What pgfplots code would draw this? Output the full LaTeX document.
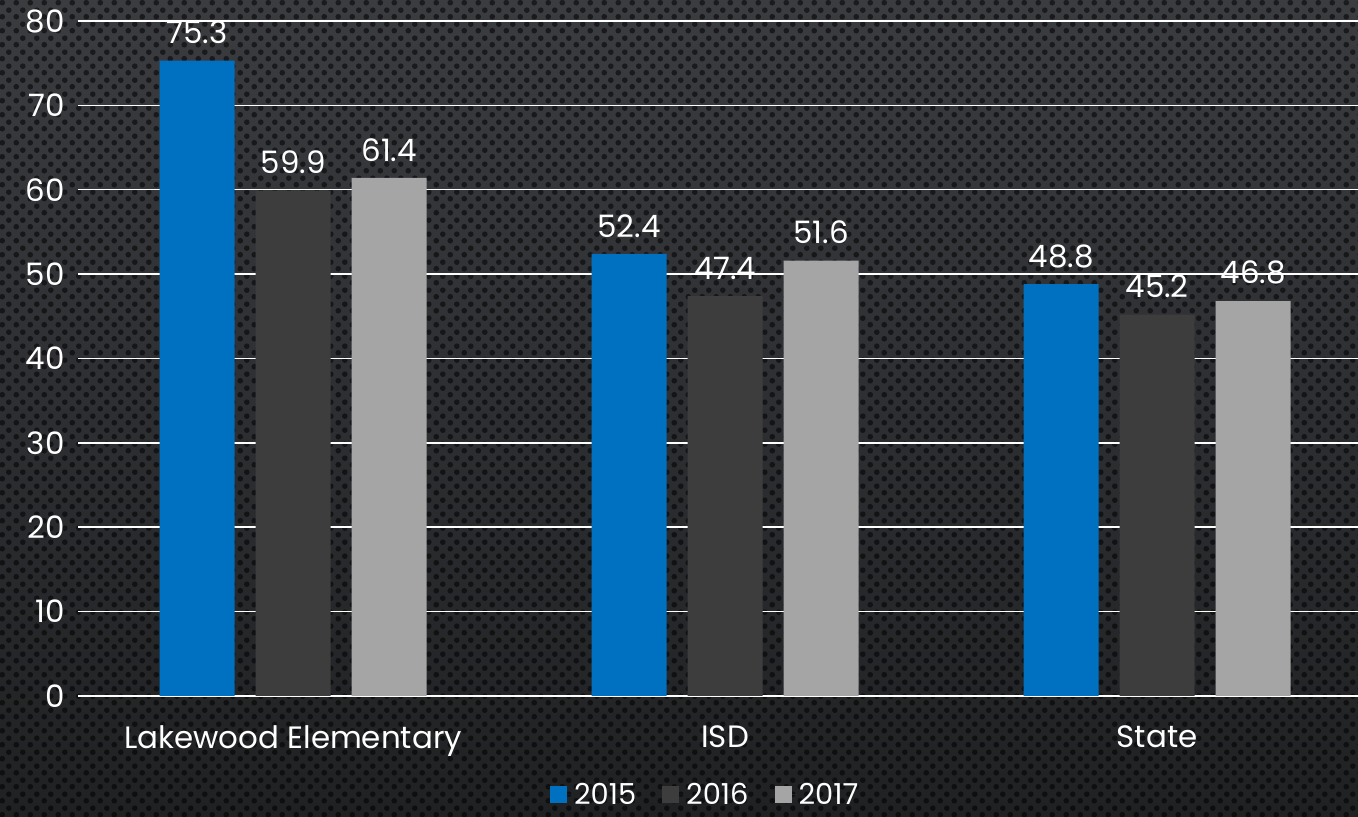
\documentclass[border=0pt]{standalone}
\usepackage{pgfplots}
\pgfplotsset{compat=1.18}
\usepackage{fontspec}
\setmainfont{Poppins}
\usetikzlibrary{patterns.meta}
\definecolor{c15}{HTML}{0070C0}
\definecolor{c16}{HTML}{3D3D3D}
\definecolor{c17}{HTML}{A5A5A5}
\definecolor{bgtop}{HTML}{3B3C40}
\definecolor{bgbot}{HTML}{202123}
\tikzdeclarepattern{
  name=bgdots,
  type=uncolored,
  bottom left={(0bp,0bp)},
  top right={(14bp,14bp)},
  tile size={(14bp,14bp)},
  code={
    \pgfpathcircle{\pgfpoint{3.5bp}{3.5bp}}{3bp}
    \pgfpathcircle{\pgfpoint{10.5bp}{10.5bp}}{3bp}
    \pgfusepath{fill}
  }
}
\newcommand{\chartfont}{\fontsize{31}{36}\selectfont}
\newcommand{\legfont}{\fontsize{29}{34}\selectfont}
\begin{document}
\begin{tikzpicture}
\shade[top color=bgtop, bottom color=bgbot] (0,0) rectangle (1358bp,817bp);
\fill[pattern=bgdots, pattern color=black, fill opacity=0.55] (0,0) rectangle (1358bp,817bp);
\begin{axis}[
  at={(78bp,121bp)}, anchor=south west,
  scale only axis, width=1280bp, height=675bp,
  ybar=21bp, bar width=75bp,
  xmin=-0.498, xmax=2.465, ymin=0, ymax=80,
  ytick={0,10,...,80},
  xtick={0,1,2},
  xticklabels={Lakewood Elementary, ISD, State},
  axis line style={draw=none},
  major tick length=0pt,
  ymajorgrids, grid style={white, line width=1.5bp},
  tick label style={font=\chartfont, text=white},
  yticklabel style={xshift=-10bp},
  xticklabel style={yshift=-26bp},
  /pgf/number format/assume math mode=true,
  nodes near coords,
  nodes near coords style={font=\chartfont, text=white, yshift=13bp,
    /pgf/number format/.cd, fixed, precision=1, fixed zerofill},
  legend style={at={(0.49,-0.146)}, anchor=center, draw=none, fill=none,
    font=\legfont, text=white, legend columns=-1,
    /tikz/every even column/.append style={column sep=24bp}},
  legend cell align=left,
]
\addplot[fill=c15, draw=none, legend image code/.code={\fill[c15] (0bp,-8bp) rectangle (17bp,9bp); \path (0bp,0bp) -- (22bp,0bp);}]
  coordinates {(0,75.3) (1,52.4) (2,48.8)};
\addlegendentry{2015}
\addplot[fill=c16, draw=none, legend image code/.code={\fill[c16] (0bp,-8bp) rectangle (17bp,9bp); \path (0bp,0bp) -- (22bp,0bp);}]
  coordinates {(0,59.9) (1,47.4) (2,45.2)};
\addlegendentry{2016}
\addplot[fill=c17, draw=none, legend image code/.code={\fill[c17] (0bp,-8bp) rectangle (17bp,9bp); \path (0bp,0bp) -- (22bp,0bp);}]
  coordinates {(0,61.4) (1,51.6) (2,46.8)};
\addlegendentry{2017}
\end{axis}
\pgfresetboundingbox
\useasboundingbox (0,0) rectangle (1358bp,817bp);
\end{tikzpicture}
\end{document}
